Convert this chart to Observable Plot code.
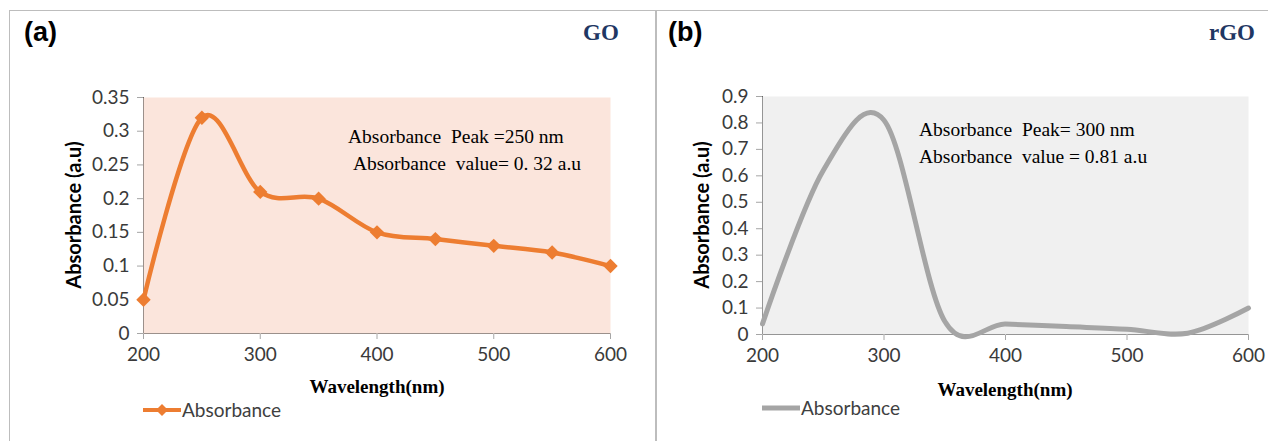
<!DOCTYPE html>
<html>
<head>
<meta charset="utf-8">
<script src="https://cdn.jsdelivr.net/npm/d3@7"></script>
<script src="https://cdn.jsdelivr.net/npm/@observablehq/plot@0.6"></script>
<style>
  body { margin: 0; background: #fff; }
  #wrap { position: relative; width: 1268px; height: 441px; overflow: hidden; background: #fff; }
  .panel { position: absolute; border: 1.5px solid #bdbdbd; box-sizing: border-box; }
  .abs { position: absolute; white-space: nowrap; }
  .tag { font-family: "Liberation Sans", Arial, sans-serif; font-weight: bold; font-size: 27px; color: #000; }
  .name { font-family: "Liberation Serif", "Times New Roman", serif; font-weight: bold; font-size: 23px; color: #1f3763; }
  .ylab { font-family: Lato, "Open Sans", sans-serif; font-weight: bold; font-size: 20px; color: #000; transform: translate(-50%,-50%) rotate(-90deg); }
  .xlab { font-family: "Liberation Serif", "Times New Roman", serif; font-weight: bold; font-size: 19px; color: #000; transform: translate(-50%,-50%); }
  .note { font-family: "Liberation Serif", "Times New Roman", serif; font-size: 19.5px; color: #000; line-height: 27px; }
  .leg { font-family: Lato, "Open Sans", sans-serif; font-size: 19px; color: #404040; display: flex; align-items: center; }
  .chart { position: absolute; top: 0; }
</style>
</head>
<body>
<div id="wrap">
  <div class="panel" style="left:9px; top:10px; width:647px; height:450px;"></div>
  <div class="panel" style="left:656px; top:10px; width:630px; height:450px;"></div>
  <div class="chart" id="chartA" style="left:0px;"></div>
  <div class="chart" id="chartB" style="left:656px;"></div>
  <div class="abs tag" style="left:24px; top:17px;">(a)</div>
  <div class="abs name" style="left:583px; top:20px;">GO</div>
  <div class="abs tag" style="left:668px; top:17px;">(b)</div>
  <div class="abs name" style="left:1209px; top:20px;">rGO</div>
  <div class="abs ylab" style="left:73px; top:215px;">Absorbance (a.u)</div>
  <div class="abs ylab" style="left:701px; top:215px;">Absorbance (a.u)</div>
  <div class="abs xlab" style="left:377px; top:387px;">Wavelength(nm)</div>
  <div class="abs xlab" style="left:1005px; top:390px;">Wavelength(nm)</div>
  <div class="abs note" style="left:348px; top:123px;">Absorbance&nbsp; Peak =250 nm<br>&nbsp;Absorbance&nbsp; value= 0. 32 a.u</div>
  <div class="abs note" style="left:919px; top:116px;">Absorbance&nbsp; Peak= 300 nm<br>Absorbance&nbsp; value = 0.81 a.u</div>
  <div class="abs leg" style="left:142px; top:398px;">
    <svg width="40" height="14"><line x1="1" y1="7" x2="39" y2="7" stroke="#ed7d31" stroke-width="4"/><path d="M20,1 L26,7 L20,13 L14,7 Z" fill="#ed7d31"/></svg><span>Absorbance</span>
  </div>
  <div class="abs leg" style="left:761px; top:396px;">
    <svg width="40" height="14"><line x1="1" y1="7" x2="39" y2="7" stroke="#a5a5a5" stroke-width="5"/></svg><span>Absorbance</span>
  </div>
</div>
<script>
// Panel (a): GO
const goWavelength = [200, 250, 300, 350, 400, 450, 500, 550, 600];
const goAbsorbance = [0.05, 0.32, 0.21, 0.20, 0.15, 0.14, 0.13, 0.12, 0.10];
const goYTicks = [0, 0.05, 0.1, 0.15, 0.2, 0.25, 0.3, 0.35];
// Panel (b): rGO
const rgoWavelength = [200, 250, 300, 350, 400, 450, 500, 550, 600];
const rgoAbsorbance = [0.04, 0.62, 0.81, 0.05, 0.04, 0.03, 0.02, 0.005, 0.10];
const rgoYTicks = [0, 0.1, 0.2, 0.3, 0.4, 0.5, 0.6, 0.7, 0.8, 0.9];
const xTicks = [200, 300, 400, 500, 600];

const goData = goWavelength.map((w, i) => ({w, a: goAbsorbance[i]}));
const rgoData = rgoWavelength.map((w, i) => ({w, a: rgoAbsorbance[i]}));

const fmt = d => String(d);

const common = {
  style: {fontFamily: "Lato, 'Open Sans', sans-serif", fontSize: "19px", color: "#3a3a3a", background: "transparent", overflow: "visible"}
};

const chartA = Plot.plot({
  ...common,
  width: 655, height: 441,
  marginLeft: 143, marginRight: 45, marginTop: 97, marginBottom: 108,
  x: {domain: [200, 600], ticks: xTicks, tickSize: 6, tickPadding: 8, label: null, line: true, tickFormat: fmt},
  y: {domain: [0, 0.35], ticks: goYTicks, tickSize: 6, tickPadding: 8, label: null, line: true, tickFormat: fmt},
  marks: [
    Plot.frame({fill: "#fbe5dc", stroke: null}),
    Plot.line(goData, {x: "w", y: "a", curve: "cardinal", tension: 0, stroke: "#ed7d31", strokeWidth: 4.5}),
    Plot.dot(goData, {x: "w", y: "a", symbol: "diamond2", r: 6.5, fill: "#ed7d31", stroke: "none"})
  ]
});
document.getElementById("chartA").appendChild(chartA);

const chartB = Plot.plot({
  ...common,
  width: 612, height: 441,
  marginLeft: 106, marginRight: 20, marginTop: 96, marginBottom: 107,
  x: {domain: [200, 600], ticks: xTicks, tickSize: 6, tickPadding: 8, label: null, line: true, tickFormat: fmt},
  y: {domain: [0, 0.9], ticks: rgoYTicks, tickSize: 6, tickPadding: 8, label: null, line: true, tickFormat: fmt},
  marks: [
    Plot.frame({fill: "#f0f0f0", stroke: null}),
    Plot.line(rgoData, {x: "w", y: "a", curve: "cardinal", tension: 0, stroke: "#a5a5a5", strokeWidth: 5})
  ]
});
document.getElementById("chartB").appendChild(chartB);

// axis line / tick colour
document.querySelectorAll("svg [aria-label$='axis'] path, svg [aria-label$='tick'] path").forEach(p => p.setAttribute("stroke", "#a6a6a6"));
</script>
</body>
</html>
